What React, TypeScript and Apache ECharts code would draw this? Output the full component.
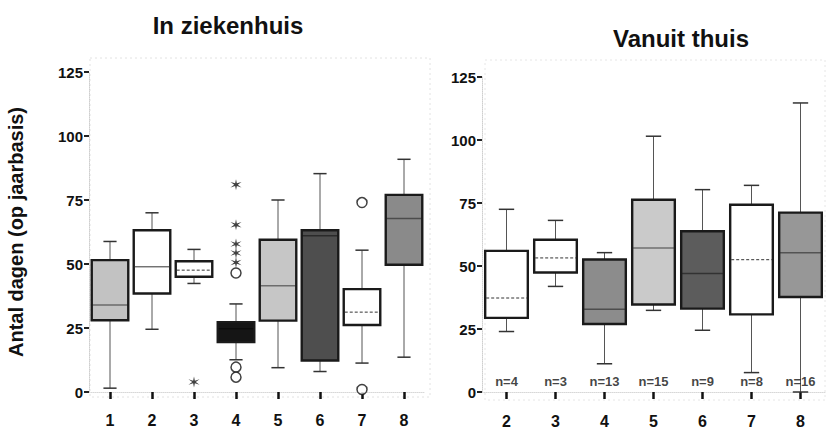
import React, { useEffect, useRef } from "react";
import * as echarts from "echarts";

// ---- data ----
const leftCats = ["1", "2", "3", "4", "5", "6", "7", "8"];
// [low, q1, median, q3, high]
const leftBoxes = [
  [1.5, 28, 34, 51.5, 58.8],
  [24.5, 38.5, 48.9, 63.2, 70],
  [42.4, 45, 47.6, 51.1, 55.7],
  [12.6, 19.5, 24.7, 27.3, 34.4],
  [9.5, 27.9, 41.5, 59.5, 75],
  [8, 12.3, 61, 63.2, 85.3],
  [11.3, 26.2, 31.2, 40.2, 55.4],
  [13.6, 49.7, 67.8, 77, 90.9],
];
const leftCircleOutliers = [
  ["4", 9.7],
  ["4", 5.8],
  ["4", 46.5],
  ["7", 74],
  ["7", 1],
];
const leftStarOutliers = [
  ["3", 3.9],
  ["4", 50.6],
  ["4", 54.3],
  ["4", 57.8],
  ["4", 65.3],
  ["4", 81],
];

const rightCats = ["2", "3", "4", "5", "6", "7", "8"];
const rightBoxes = [
  [24, 29.4, 37.3, 56, 72.5],
  [41.9, 47.4, 53.2, 60.4, 68.1],
  [11.2, 27, 32.8, 52.6, 55.3],
  [32.4, 34.7, 57.1, 76.3, 101.5],
  [24.5, 33.1, 47, 63.8, 80.3],
  [7.7, 30.8, 52.5, 74.3, 82],
  [0, 37.7, 55.3, 71.2, 114.7],
];
const rightCounts = [4, 3, 13, 15, 9, 8, 16];
const nLabelLevel = 4;

const yTicks = { min: 0, max: 125, interval: 25 };

// ---- styles ----
const leftFills = ["#c2c2c2", "#ffffff", "#ffffff", "#151515", "#c6c6c6", "#4e4e4e", "#ffffff", "#8a8a8a"];
const rightFills = ["#ffffff", "#ffffff", "#8c8c8c", "#cacaca", "#5c5c5c", "#ffffff", "#979797"];
const leftMedianDashed = [false, false, true, false, false, false, true, false];
const rightMedianDashed = [true, true, false, false, false, true, false];

const FONT = "Liberation Sans, Arial, Helvetica, sans-serif";
const STAR =
  "path://M10 0 L11.4 7.58 L18.66 5 L12.8 10 L18.66 15 L11.4 12.42 L10 20 L8.6 12.42 L1.34 15 L7.2 10 L1.34 5 L8.6 7.58 Z";

function makeRenderer(fills: string[], dashed: boolean[]) {
  return (params: any, api: any) => {
    const x = api.value(0);
    const low = api.coord([x, api.value(1)]);
    const q1 = api.coord([x, api.value(2)]);
    const med = api.coord([x, api.value(3)]);
    const q3 = api.coord([x, api.value(4)]);
    const high = api.coord([x, api.value(5)]);
    const bw = api.size([1, 0])[0] * 0.87;
    const cw = bw * 0.36;
    const cx = low[0];
    const fill = fills[params.dataIndex] || "#fff";
    const isWhite = fill.toLowerCase() === "#ffffff";
    const whisk = { stroke: "#555", lineWidth: 1 };
    const cap = { stroke: "#333", lineWidth: 1.5 };
    const medStyle: any = isWhite
      ? { stroke: "#333", lineWidth: 1 }
      : { stroke: "rgba(0,0,0,0.45)", lineWidth: 1.5 };
    if (dashed[params.dataIndex]) medStyle.lineDash = [3, 2];
    return {
      type: "group",
      children: [
        { type: "line", shape: { x1: cx, y1: high[1], x2: cx, y2: q3[1] }, style: whisk },
        { type: "line", shape: { x1: cx, y1: q1[1], x2: cx, y2: low[1] }, style: whisk },
        { type: "line", shape: { x1: cx - cw / 2, y1: high[1], x2: cx + cw / 2, y2: high[1] }, style: cap },
        { type: "line", shape: { x1: cx - cw / 2, y1: low[1], x2: cx + cw / 2, y2: low[1] }, style: cap },
        {
          type: "rect",
          shape: { x: cx - bw / 2, y: q3[1], width: bw, height: q1[1] - q3[1] },
          style: { fill, stroke: "#1a1a1a", lineWidth: 2.4 },
        },
        {
          type: "line",
          shape: { x1: cx - bw / 2 + 1, y1: med[1], x2: cx + bw / 2 - 1, y2: med[1] },
          style: medStyle,
        },
      ],
    };
  };
}

function xAxisFor(gridIndex: number, cats: string[], offset: number) {
  return {
    type: "category",
    gridIndex,
    data: cats,
    offset,
    boundaryGap: true,
    axisLine: { show: true, lineStyle: { color: "#d8d8d8", type: "dotted", width: 1 } },
    axisTick: { show: true, alignWithLabel: true, length: 7, lineStyle: { color: "#111", width: 2.5 } },
    axisLabel: { color: "#111", fontSize: 16, fontWeight: "bold", fontFamily: FONT, margin: 13 },
    splitLine: { show: false },
  };
}

function yAxisFor(gridIndex: number, withName: boolean) {
  return {
    type: "value",
    gridIndex,
    min: yTicks.min,
    max: yTicks.max,
    interval: yTicks.interval,
    name: withName ? "Antal dagen (op jaarbasis)" : "",
    nameLocation: "middle",
    nameGap: 63,
    nameTextStyle: { color: "#111", fontSize: 20, fontWeight: "bold", fontFamily: FONT },
    axisLine: { show: true, lineStyle: { color: "#cfcfcf", type: "dotted", width: 1 } },
    axisTick: { show: true, length: 5, lineStyle: { color: "#222", width: 2 } },
    axisLabel: { color: "#111", fontSize: 15, fontWeight: "bold", fontFamily: FONT, margin: 6 },
    splitLine: { show: false },
  };
}

export default function App() {
  const ref = useRef<HTMLDivElement>(null);
  useEffect(() => {
    if (!ref.current) return;
    const chart = echarts.init(ref.current, undefined, { renderer: "svg" });
    const option: any = {
      animation: false,
      backgroundColor: "#ffffff",
      textStyle: { fontFamily: FONT },
      grid: [
        { left: 89, width: 336, top: 72, height: 320 },
        { left: 482, width: 343, top: 77, height: 315 },
      ],
      xAxis: [xAxisFor(0, leftCats, 7), xAxisFor(1, rightCats, 8)],
      yAxis: [yAxisFor(0, true), yAxisFor(1, false)],
      series: [
        {
          type: "custom",
          xAxisIndex: 0,
          yAxisIndex: 0,
          renderItem: makeRenderer(leftFills, leftMedianDashed),
          encode: { x: 0, y: [1, 2, 3, 4, 5] },
          data: leftBoxes.map((b, i) => [i, ...b]),
          z: 2,
        },
        {
          type: "scatter",
          xAxisIndex: 0,
          yAxisIndex: 0,
          symbol: "circle",
          symbolSize: 10,
          itemStyle: { color: "#fff", borderColor: "#111", borderWidth: 1.5 },
          data: leftCircleOutliers,
          z: 3,
        },
        {
          type: "scatter",
          xAxisIndex: 0,
          yAxisIndex: 0,
          symbol: STAR,
          symbolSize: 11,
          itemStyle: { color: "#111" },
          data: leftStarOutliers,
          z: 3,
        },
        {
          type: "custom",
          xAxisIndex: 1,
          yAxisIndex: 1,
          renderItem: makeRenderer(rightFills, rightMedianDashed),
          encode: { x: 0, y: [1, 2, 3, 4, 5] },
          data: rightBoxes.map((b, i) => [i, ...b]),
          z: 2,
        },
        {
          type: "scatter",
          xAxisIndex: 1,
          yAxisIndex: 1,
          symbol: "rect",
          symbolSize: 1,
          itemStyle: { color: "rgba(0,0,0,0)" },
          label: {
            show: true,
            position: "inside",
            formatter: (p: any) => "n=" + p.value[2],
            color: "#111",
            fontSize: 13,
            fontWeight: "bold",
            fontFamily: FONT,
          },
          data: rightCats.map((c, i) => [c, nLabelLevel, rightCounts[i]]),
          z: 4,
        },
      ],
      graphic: [
        {
          type: "rect",
          silent: true,
          shape: { x: 90, y: 58, width: 340, height: 339 },
          style: { fill: "none", stroke: "#e2e2e2", lineWidth: 1, lineDash: [2, 3] },
          z: -1,
        },
        {
          type: "rect",
          silent: true,
          shape: { x: 485, y: 60, width: 340, height: 340 },
          style: { fill: "none", stroke: "#e6e6e6", lineWidth: 1, lineDash: [2, 3] },
          z: -1,
        },
        {
          type: "text",
          x: 228,
          y: 25,
          style: {
            text: "In ziekenhuis",
            font: "bold 24px " + FONT,
            fill: "#111",
            textAlign: "center",
            textVerticalAlign: "middle",
            align: "center",
            verticalAlign: "middle",
          },
        },
        {
          type: "text",
          x: 681,
          y: 38,
          style: {
            text: "Vanuit thuis",
            font: "bold 24px " + FONT,
            fill: "#111",
            textAlign: "center",
            textVerticalAlign: "middle",
            align: "center",
            verticalAlign: "middle",
          },
        },
      ],
    };
    chart.setOption(option);
    return () => chart.dispose();
  }, []);
  return (
    <div
      ref={ref}
      style={{ position: "fixed", left: 0, top: 0, width: 831, height: 439, background: "#fff" }}
    />
  );
}
